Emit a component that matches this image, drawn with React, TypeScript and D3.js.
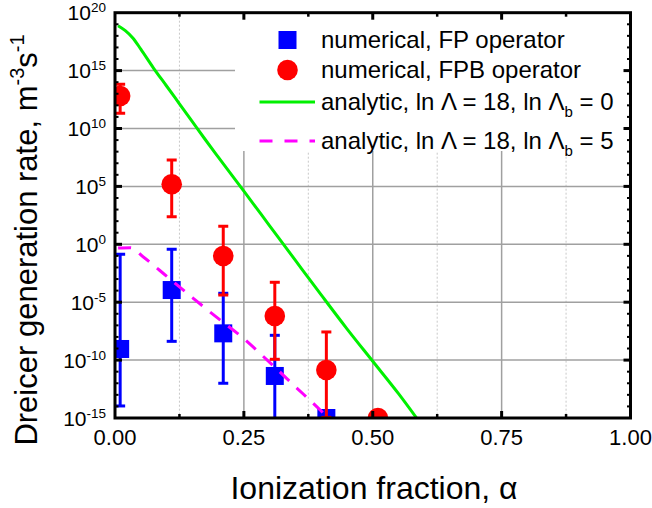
import React, { useRef, useEffect } from "react";
import * as d3 from "d3";

// numerical, FP operator (log10 of rate)
const fpX = [0.01, 0.11, 0.21, 0.31, 0.41];
const fpLog = [-9.04, -3.95, -7.69, -11.37, -15.0];
const fpHiLog = [-0.86, -0.43, -4.23, -7.86, -15.0];
const fpLoLog = [-13.96, -8.38, -12.0, -17.5, -15.0];

// numerical, FPB operator
const fpbX = [0.01, 0.11, 0.21, 0.31, 0.41, 0.51];
const fpbLog = [12.81, 5.18, -1.01, -6.19, -10.86, -15.0];
const fpbHiLog = [13.82, 7.28, 1.55, -3.28, -7.57, -15.0];
const fpbLoLog = [11.31, 2.38, -4.38, -9.93, -14.95, -15.0];

// analytic, ln Lambda_b = 0
const an0X = [0.006, 0.02, 0.035, 0.05, 0.075, 0.1, 0.125, 0.15, 0.175, 0.2, 0.25, 0.3, 0.35, 0.4, 0.45, 0.5, 0.55, 0.585];
const an0Log = [18.88, 18.45, 17.8, 16.85, 15.2, 13.67, 12.13, 10.59, 9.05, 7.55, 4.59, 1.6, -1.39, -4.37, -7.3, -10.1, -12.9, -15.0];

// analytic, ln Lambda_b = 5
const an5X = [0.006, 0.03, 0.055, 0.1, 0.15, 0.2, 0.25, 0.3, 0.35, 0.4, 0.42];
const an5Log = [-0.33, -0.3, -1.1, -2.75, -4.6, -6.4, -8.15, -10.2, -12.3, -14.4, -15.3];

const xTicks = [0, 0.25, 0.5, 0.75, 1];
const xTickLabels = ["0.00", "0.25", "0.50", "0.75", "1.00"];
const xMinor = [0.125, 0.375, 0.625, 0.875];
const yTickExp = [-15, -10, -5, 0, 5, 10, 15, 20];

const legendItems = [
  { kind: "square", text: "numerical, FP operator" },
  { kind: "circle", text: "numerical, FPB operator" },
  { kind: "solid", text: "analytic, ln \u039B = 18, ln \u039B", sub: "b", tail: " = 0" },
  { kind: "dash", text: "analytic, ln \u039B = 18, ln \u039B", sub: "b", tail: " = 5" },
];

const FONT = "'Liberation Sans', Arial, Helvetica, sans-serif";

const App = () => {
  const svgRef = useRef<SVGSVGElement>(null);

  useEffect(() => {
    const root = d3.select(svgRef.current);
    root.selectAll("*").remove();
    const svg = root.attr("width", 652).attr("height", 508).style("font-family", FONT);

    const left = 115, right = 630.5, top = 12.7, bottom = 418;
    const x = d3.scaleLinear().domain([0, 1]).range([left, right]);
    const y = d3.scaleLog().domain([1e-15, 1e20]).range([bottom, top]);
    const p10 = (v: number) => Math.pow(10, v);

    svg.append("defs").append("clipPath").attr("id", "plotclip")
      .append("rect").attr("x", left).attr("y", top)
      .attr("width", right - left).attr("height", bottom - top);

    // grid
    const grid = svg.append("g");
    grid.selectAll(".gxm").data(xMinor).enter().append("line")
      .attr("x1", (d) => x(d)).attr("x2", (d) => x(d))
      .attr("y1", top).attr("y2", bottom)
      .attr("stroke", "#c8c8c8").attr("stroke-width", 1).attr("stroke-dasharray", "2,2");
    grid.selectAll(".gx").data(xTicks.slice(1, -1)).enter().append("line")
      .attr("x1", (d) => x(d)).attr("x2", (d) => x(d))
      .attr("y1", top).attr("y2", bottom)
      .attr("stroke", "#a0a0a0").attr("stroke-width", 1.5);
    grid.selectAll(".gy").data(yTickExp.slice(1, -1)).enter().append("line")
      .attr("x1", left).attr("x2", right)
      .attr("y1", (d) => y(p10(d))).attr("y2", (d) => y(p10(d)))
      .attr("stroke", "#a0a0a0").attr("stroke-width", 1.5);

    // legend background hides the grid
    svg.append("rect").attr("x", 235).attr("y", top).attr("width", right - 235).attr("height", 151 - top)
      .attr("fill", "white");

    const plot = svg.append("g").attr("clip-path", "url(#plotclip)");

    const errorBars = (xs: number[], lo: number[], hi: number[], color: string) => {
      xs.forEach((xv, i) => {
        if (hi[i] === lo[i]) return;
        const cx = x(xv);
        plot.append("line").attr("x1", cx).attr("x2", cx)
          .attr("y1", y(p10(lo[i]))).attr("y2", y(p10(hi[i])))
          .attr("stroke", color).attr("stroke-width", 3);
        [lo[i], hi[i]].forEach((v) => {
          plot.append("line").attr("x1", cx - 5).attr("x2", cx + 5)
            .attr("y1", y(p10(v))).attr("y2", y(p10(v)))
            .attr("stroke", color).attr("stroke-width", 3);
        });
      });
    };

    errorBars(fpX, fpLoLog, fpHiLog, "#0000ff");
    plot.selectAll(".fp").data(fpX).enter().append("rect")
      .attr("x", (d) => x(d) - 9).attr("y", (d, i) => y(p10(fpLog[i])) - 9)
      .attr("width", 18).attr("height", 18).attr("fill", "#0000ff");

    errorBars(fpbX, fpbLoLog, fpbHiLog, "#ff0000");
    plot.selectAll(".fpb").data(fpbX).enter().append("circle")
      .attr("cx", (d) => x(d)).attr("cy", (d, i) => y(p10(fpbLog[i])))
      .attr("r", 10.3).attr("fill", "#ff0000");

    const line = d3.line<number>().curve(d3.curveMonotoneX);
    plot.append("path")
      .attr("d", line.x((d) => x(d)).y((d, i) => y(p10(an0Log[i])))(an0X))
      .attr("fill", "none").attr("stroke", "#00f000").attr("stroke-width", 3);
    plot.append("path")
      .attr("d", line.x((d) => x(d)).y((d, i) => y(p10(an5Log[i])))(an5X))
      .attr("fill", "none").attr("stroke", "#ff00ff").attr("stroke-width", 3)
      .attr("stroke-dasharray", "13,10");

    // frame and ticks
    const axes = svg.append("g").attr("stroke", "black");
    axes.append("rect").attr("x", left).attr("y", top).attr("width", right - left).attr("height", bottom - top)
      .attr("fill", "none").attr("stroke-width", 3);
    xTicks.slice(1, -1).forEach((t) => {
      axes.append("line").attr("x1", x(t)).attr("x2", x(t)).attr("y1", bottom).attr("y2", bottom - 7).attr("stroke-width", 3);
      axes.append("line").attr("x1", x(t)).attr("x2", x(t)).attr("y1", top).attr("y2", top + 7).attr("stroke-width", 3);
    });
    xMinor.forEach((t) => {
      axes.append("line").attr("x1", x(t)).attr("x2", x(t)).attr("y1", bottom).attr("y2", bottom - 4).attr("stroke-width", 2.5);
      axes.append("line").attr("x1", x(t)).attr("x2", x(t)).attr("y1", top).attr("y2", top + 4).attr("stroke-width", 2.5);
    });
    d3.range(-14, 20).forEach((e) => {
      const major = e % 5 === 0;
      const len = major ? 7 : 3.5;
      const w = major ? 3 : 2;
      axes.append("line").attr("x1", left).attr("x2", left + len).attr("y1", y(p10(e))).attr("y2", y(p10(e))).attr("stroke-width", w);
      axes.append("line").attr("x1", right).attr("x2", right - len).attr("y1", y(p10(e))).attr("y2", y(p10(e))).attr("stroke-width", w);
    });

    // tick labels
    svg.selectAll(".xl").data(xTicks).enter().append("text")
      .attr("x", (d) => x(d)).attr("y", 445).attr("text-anchor", "middle")
      .attr("font-size", 22).text((d, i) => xTickLabels[i]);
    yTickExp.forEach((e) => {
      const t = svg.append("text").attr("x", 106).attr("y", y(p10(e)) + 7.5)
        .attr("text-anchor", "end").attr("font-size", 21);
      t.append("tspan").text("10");
      t.append("tspan").attr("dy", -8).attr("font-size", 13.5).text(String(e));
    });

    // axis titles
    svg.append("text").attr("x", 374).attr("y", 499).attr("text-anchor", "middle")
      .attr("font-size", 32).text("Ionization fraction, \u03B1");
    const yt = svg.append("text").attr("transform", "translate(37,240) rotate(-90)")
      .attr("text-anchor", "middle").attr("font-size", 31);
    yt.append("tspan").text("Dreicer generation rate, m");
    yt.append("tspan").attr("dy", -13).attr("font-size", 20).text("-3");
    yt.append("tspan").attr("dy", 13).text("s");
    yt.append("tspan").attr("dy", -13).attr("font-size", 20).text("-1");

    // legend
    const rowY = [40, 70, 102, 141];
    const lg = svg.append("g");
    legendItems.forEach((it, i) => {
      const cy = rowY[i];
      if (it.kind === "square") {
        lg.append("rect").attr("x", 278.5).attr("y", cy - 9).attr("width", 18).attr("height", 18).attr("fill", "#0000ff");
      } else if (it.kind === "circle") {
        lg.append("circle").attr("cx", 287.5).attr("cy", cy).attr("r", 10.3).attr("fill", "#ff0000");
      } else {
        lg.append("line").attr("x1", 259.5).attr("x2", 315).attr("y1", cy).attr("y2", cy)
          .attr("stroke", it.kind === "solid" ? "#00f000" : "#ff00ff").attr("stroke-width", 3)
          .attr("stroke-dasharray", it.kind === "dash" ? "13,12" : null);
      }
      const t = lg.append("text").attr("x", 321).attr("y", cy + 8).attr("font-size", 24);
      t.append("tspan").text(it.text);
      if (it.sub) {
        t.append("tspan").attr("dy", 7).attr("font-size", 15).text(it.sub);
        t.append("tspan").attr("dy", -7).text(it.tail);
      }
    });
  }, []);

  return (
    <div>
      <svg ref={svgRef} style={{ position: "absolute", left: 0, top: 0, display: "block" }}></svg>
    </div>
  );
};

export default App;
